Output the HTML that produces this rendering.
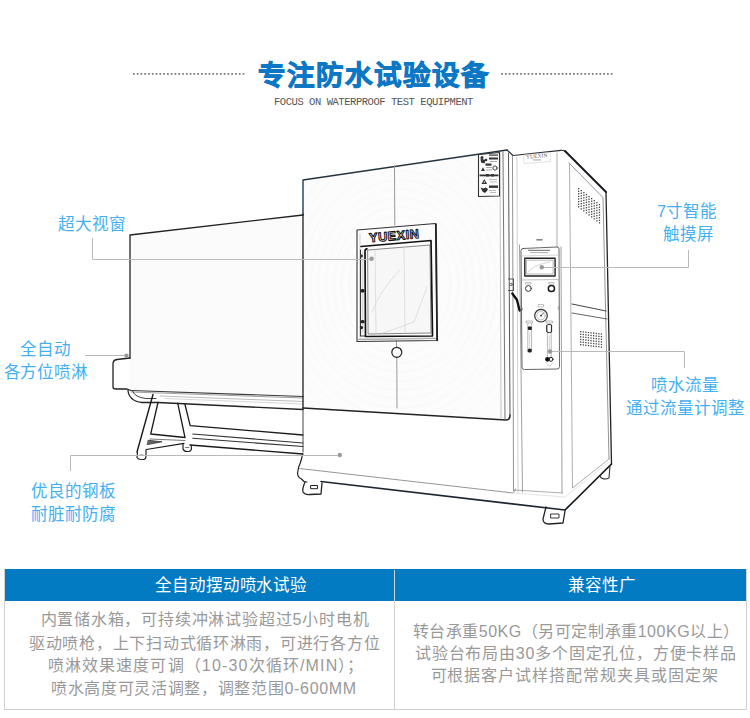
<!DOCTYPE html>
<html lang="zh-CN">
<head>
<meta charset="utf-8">
<title>专注防水试验设备</title>
<style>
html,body{margin:0;padding:0;background:#fff;}
body{width:750px;height:718px;overflow:hidden;position:relative;font-family:"Liberation Sans",sans-serif;}
.abs{position:absolute;white-space:nowrap;}
.title{left:258px;top:56px;font-size:27.5px;line-height:40px;font-weight:700;color:#0c77c4;letter-spacing:2px;-webkit-text-stroke:0.9px #0c77c4;}
.dots{position:absolute;height:2px;background-image:linear-gradient(to right,#8c8c8c 0,#8c8c8c 1.6px,transparent 1.6px,transparent 4px);background-size:4px 2px;opacity:0.85;}
.sub{left:274px;top:95px;font-family:"Liberation Mono",monospace;font-size:10.5px;line-height:14px;color:#555;letter-spacing:-0.45px;}
.lbl{position:absolute;white-space:nowrap;color:#44b0f2;font-size:16.5px;line-height:22px;text-align:center;}
.ln{position:absolute;background:#b4b4b4;}
.dot{position:absolute;width:5px;height:5px;border-radius:50%;background:#9a9a9a;}
svg{position:absolute;left:0;top:0;}
.tbl{position:absolute;left:4px;top:569px;width:741px;height:140px;border:1px solid #d0d0d0;border-top:none;box-sizing:content-box;}
.th{position:absolute;top:569px;height:32px;background:#037bc3;}
.tht{position:absolute;color:#fff;font-size:16.5px;line-height:32px;top:569px;white-space:nowrap;font-weight:500;}
.td{position:absolute;color:#999;font-size:16px;line-height:22.7px;white-space:nowrap;font-weight:300;letter-spacing:0.8px;}
</style>
</head>
<body>
<div class="abs title">专注防水试验设备</div>
<div class="abs sub">FOCUS ON WATERPROOF TEST EQUIPMENT</div>

<!-- MACHINE -->
<svg width="750" height="718" viewBox="0 0 750 718" id="m">
<g fill="none" stroke-linecap="round" stroke-linejoin="round">
<path d="M130 358 L130 235 L303 215 L303 397 L130 390.5 Z" fill="#fbfbfb" stroke="none"/>
<path d="M304 181 L507 151 L510 419 L304 408 Z" fill="#fcfcfc" stroke="none"/>
<!-- faint background arcs on door -->
<clipPath id="dc"><path d="M304 181 L500 152 L503 418 L304 407 Z"/></clipPath>
<g stroke="#f5f5f5" stroke-width="0.6" clip-path="url(#dc)">
<ellipse cx="400" cy="285" rx="51" ry="60"/>
<ellipse cx="400" cy="285" rx="59" ry="69"/>
<ellipse cx="400" cy="285" rx="66" ry="78"/>
<ellipse cx="400" cy="285" rx="74" ry="87"/>
<ellipse cx="400" cy="285" rx="82" ry="96"/>
<ellipse cx="400" cy="285" rx="89" ry="105"/>
<ellipse cx="400" cy="285" rx="97" ry="114"/>
<ellipse cx="400" cy="285" rx="105" ry="123"/>
<ellipse cx="400" cy="285" rx="112" ry="132"/>
<ellipse cx="400" cy="285" rx="120" ry="141"/>
<ellipse cx="400" cy="285" rx="128" ry="150"/>
<ellipse cx="400" cy="285" rx="135" ry="159"/>
<ellipse cx="400" cy="285" rx="143" ry="168"/>
<ellipse cx="400" cy="285" rx="150" ry="177"/>
<ellipse cx="400" cy="285" rx="158" ry="186"/>
<ellipse cx="400" cy="285" rx="166" ry="195"/>
</g>
<!-- spray box -->
<path d="M130 358 L130 235 L303 215" stroke="#222" stroke-width="1.3"/>
<path d="M130 358 L117 359.5 Q113 360 113 364 L113 387 Q113 389 116 389 L127 389 L131 390.5" stroke="#222" stroke-width="1.3"/>
<path d="M131 390.5 L303 396.5" stroke="#3a3a3a" stroke-width="1.1"/>
<!-- rails under spray box -->
<path d="M131 392 L303 398" stroke="#888" stroke-width="0.8"/>
<path d="M160 396 L303 401.5" stroke="#aaa" stroke-width="0.8"/>
<path d="M165 398.5 L303 404" stroke="#ccc" stroke-width="0.8"/>
<path d="M158 402.5 L303 409.5" stroke="#222" stroke-width="1.3"/>
<!-- pipe -->
<path d="M128 390.5 Q129 401 142 402.5 L158 402.5" stroke="#222" stroke-width="1.3"/>
<path d="M132.5 391 Q135 397.5 146 398.5 L156 398.5" stroke="#444" stroke-width="1"/>
<!-- stand legs -->
<path d="M153 394.5 L137 452" stroke="#1a1a1a" stroke-width="1.4"/>
<path d="M158 402.5 L150.7 434 L185 437.5 L177.7 403.2" stroke="#1a1a1a" stroke-width="1.3"/>
<path d="M185 404.5 L190.2 425.7 L303 435" stroke="#1a1a1a" stroke-width="1.3"/>
<!-- lower bars -->
<path d="M192.7 434 L303 443" stroke="#333" stroke-width="1.1"/>
<path d="M192.7 438.3 L303 446.5" stroke="#333" stroke-width="1.1"/>
<path d="M190 445 L303 454" stroke="#1a1a1a" stroke-width="1.3"/>
<!-- cross bars bottom -->
<path d="M148.5 440.3 L162 441.8 L147.5 444.6 Z" fill="#666" stroke="#222" stroke-width="0.7"/>
<path d="M146.3 449.5 L184 443.3" stroke="#1a1a1a" stroke-width="1.2"/>
<path d="M150 439 L185 440.5" stroke="#555" stroke-width="0.8"/>
<!-- stand feet -->
<path d="M137.5 452 L137 457.5 Q138 459.5 141 459.5 L144 459.5 Q146 459 146 456 L146 450" stroke="#222" stroke-width="1.2"/>
<path d="M140 455 L143 455" stroke="#555" stroke-width="0.8"/>
<path d="M183 444 L183 449 Q184 451.5 187 451.5 L189 451.5 Q191.5 451 191.5 448 L191 445" stroke="#222" stroke-width="1.2"/>
<path d="M185.5 447.5 L189 447.5" stroke="#555" stroke-width="0.8"/>

<!-- main chamber -->
<path d="M303 409 L303 214" stroke="#1c1c1c" stroke-width="1.3"/>
<path d="M303 215 L303 180 L507 150" stroke="#24343f" stroke-width="1.35"/>
<path d="M303.3 183 L303.3 212" stroke="#4a78a8" stroke-width="1.2"/>
<!-- door bottom -->
<path d="M303 408 L506 420 Q510 420 510 415" stroke="#222" stroke-width="1.5"/>
<path d="M510 415 L508.5 153" stroke="#555" stroke-width="1"/>
<path d="M505 419 L503 152" stroke="#666" stroke-width="0.9"/>
<path d="M501 418 L500 153" stroke="#aaa" stroke-width="0.7"/>
<!-- door seam -->
<path d="M394.5 166 L394.8 225" stroke="#9a9a9a" stroke-width="1"/>
<path d="M396.5 341 L396.5 347" stroke="#9a9a9a" stroke-width="1"/>
<path d="M396.8 357 L397 408" stroke="#9a9a9a" stroke-width="1"/>
<!-- window -->
<path d="M357 230 L435.5 223.5 L436.8 340.5 L357 341.5 Z" stroke="#333" stroke-width="1.1"/>
<path d="M436 224 L437.3 340.5" stroke="#222" stroke-width="1.6"/>
<path d="M358.5 339.5 L435.5 338.5" stroke="#999" stroke-width="1"/>
<path d="M360 234 L360 339 L434 338" stroke="#bbb" stroke-width="0.7"/>
<path d="M361 246.5 L431 240.5 L432.5 336 L365.5 336.5 L365 251 Q365 249 367 248.8" stroke="#111" stroke-width="1.7"/>
<path d="M368 250 L430 245 L431 333 L368.5 334 Z" stroke="#555" stroke-width="0.7" fill="#f7f7f7"/>
<path d="M360.5 250 L360.5 336 L365 336" stroke="#333" stroke-width="1.1"/>
<path d="M362.8 252 L362.8 333" stroke="#aaa" stroke-width="0.6"/>
<rect x="360.6" y="289" width="4" height="3.6" rx="1.5" fill="#222" stroke="none"/>
<rect x="360.6" y="320" width="4" height="3.2" rx="1.5" fill="#222" stroke="none"/>
<circle cx="361.5" cy="327.6" r="1.6" fill="#222" stroke="none"/>
<circle cx="361.5" cy="256" r="1.4" fill="#333" stroke="none"/>
<!-- window interior faint lines -->
<g stroke="#d8d8d8" stroke-width="0.8">
<path d="M372 312 Q380 290 400 270"/>
<path d="M383 333 L414 322 L427 287"/>
<path d="M375 250 L376 333"/>
<path d="M404 246 L405 333"/>
</g>
<text x="369.5" y="242.3" font-family="Liberation Sans" font-weight="bold" font-size="12.8" fill="#fff" stroke="#111" stroke-width="1.05" letter-spacing="1.1" transform="rotate(-5 369.5 242.3)" textLength="51" lengthAdjust="spacing">YUEXIN</text>
<!-- knob -->
<circle cx="396.8" cy="352.3" r="5" stroke="#222" stroke-width="1.2"/>
<path d="M398 347.8 Q402 349 401.5 353" stroke="#444" stroke-width="0.8"/>
<!-- warning label -->
<path d="M478.5 154.5 L499.5 152.5 L499.5 196 L478.5 196.5 Z" stroke="#333" stroke-width="1.1"/>
<g fill="#333" stroke="none">
<circle cx="482" cy="157.5" r="1.5"/><path d="M480.5 158.5 l5 1.5 l-1 3.5 l-3.5 -1 z"/><circle cx="486" cy="160" r="1.3"/>
<rect x="489" y="154.5" width="9" height="1.2"/><rect x="489" y="157.5" width="9" height="2"/><rect x="490" y="161" width="7" height="0.8" fill="#999"/>
<rect x="485.5" y="163.5" width="6" height="2.2"/><path d="M481 171 l2 -3.8 l2 3.8 z"/>
<circle cx="495" cy="168" r="2.1" fill="none" stroke="#333" stroke-width="0.9"/>
<rect x="486" y="167" width="6" height="0.8" fill="#999"/><rect x="486" y="169.5" width="6" height="0.8" fill="#999"/>
<rect x="479.5" y="174.5" width="19" height="1.8"/><rect x="486" y="174" width="3" height="2.5"/><rect x="491" y="174" width="3" height="2.5"/>
<path d="M481.5 184 l2.8 -5 l2.8 5 z"/><path d="M483.6 182.8 l0.7 -2 l0.7 2 z" fill="#fff"/>
<rect x="489" y="179" width="8" height="0.8" fill="#aaa"/><rect x="490" y="181.5" width="7" height="0.8" fill="#aaa"/>
<rect x="489" y="185.5" width="9" height="2.4"/>
<path d="M480.5 187.5 l3 1 l2 -1 l2.5 1.5 l-1 2 l-2 2 l-2.5 -1.5 z"/>
<rect x="489" y="190" width="7" height="0.8" fill="#aaa"/><rect x="490" y="192" width="6" height="0.8" fill="#aaa"/>
</g>

<!-- control column -->
<path d="M507 150 L513 155.5 L561 150.3 Q564 150 566 152" stroke="#2a2f36" stroke-width="1.2"/>
<path d="M565 151 L606 192" stroke="#15191e" stroke-width="1.9"/>
<path d="M606 192 L611.5 464" stroke="#222" stroke-width="1.3"/>
<path d="M611.5 464 L565 510" stroke="#15191e" stroke-width="1.7"/>
<path d="M512.5 156 L513.5 491" stroke="#777" stroke-width="0.8"/>
<path d="M517 157 L518 492" stroke="#bbb" stroke-width="0.7"/>
<path d="M519.5 245 L522.5 492" stroke="#888" stroke-width="0.8"/>
<path d="M557 153 L557 247" stroke="#999" stroke-width="0.8"/>
<path d="M561 247 L562 493" stroke="#888" stroke-width="0.8"/>
<path d="M514 490 L562.5 493" stroke="#999" stroke-width="0.8"/>
<path d="M569 163 L603 197.5 L609 459" stroke="#888" stroke-width="0.9"/>
<path d="M569.5 163 L572.5 488 L609 459" stroke="#999" stroke-width="0.8"/>
<path d="M572 304 L606 311" stroke="#444" stroke-width="1"/>
<path d="M572 313 L607 319" stroke="#555" stroke-width="0.9"/>
<!-- YUEXIN small on top of control column -->
<path d="M524 155 L550 152.5 L550.5 161.5 L524.5 163.5 Z" stroke="#ccc" stroke-width="0.6"/>
<text x="537" y="157.8" font-family="Liberation Serif" font-size="5.2" fill="#555" text-anchor="middle" letter-spacing="0.3" transform="rotate(-5 537 157)">YUEXIN</text>
<rect x="533" y="159.5" width="8" height="0.9" fill="#999" stroke="none"/>
<!-- vent grids -->
<g fill="#444" stroke="none"><rect x="578.0" y="188.0" width="1.3" height="1.3"/><rect x="580.6" y="190.0" width="1.3" height="1.3"/><rect x="583.2" y="192.0" width="1.3" height="1.3"/><rect x="585.8" y="194.0" width="1.3" height="1.3"/><rect x="588.4" y="196.0" width="1.3" height="1.3"/><rect x="591.0" y="198.0" width="1.3" height="1.3"/><rect x="593.6" y="200.0" width="1.3" height="1.3"/><rect x="596.2" y="202.0" width="1.3" height="1.3"/><rect x="598.8" y="204.0" width="1.3" height="1.3"/><rect x="578.0" y="190.6" width="1.3" height="1.3"/><rect x="580.6" y="192.6" width="1.3" height="1.3"/><rect x="583.2" y="194.6" width="1.3" height="1.3"/><rect x="585.8" y="196.6" width="1.3" height="1.3"/><rect x="588.4" y="198.6" width="1.3" height="1.3"/><rect x="591.0" y="200.6" width="1.3" height="1.3"/><rect x="593.6" y="202.6" width="1.3" height="1.3"/><rect x="596.2" y="204.6" width="1.3" height="1.3"/><rect x="598.8" y="206.6" width="1.3" height="1.3"/><rect x="578.0" y="193.2" width="1.3" height="1.3"/><rect x="580.6" y="195.2" width="1.3" height="1.3"/><rect x="583.2" y="197.2" width="1.3" height="1.3"/><rect x="585.8" y="199.2" width="1.3" height="1.3"/><rect x="588.4" y="201.2" width="1.3" height="1.3"/><rect x="591.0" y="203.2" width="1.3" height="1.3"/><rect x="593.6" y="205.2" width="1.3" height="1.3"/><rect x="596.2" y="207.2" width="1.3" height="1.3"/><rect x="598.8" y="209.2" width="1.3" height="1.3"/><rect x="578.0" y="195.8" width="1.3" height="1.3"/><rect x="580.6" y="197.8" width="1.3" height="1.3"/><rect x="583.2" y="199.8" width="1.3" height="1.3"/><rect x="585.8" y="201.8" width="1.3" height="1.3"/><rect x="588.4" y="203.8" width="1.3" height="1.3"/><rect x="591.0" y="205.8" width="1.3" height="1.3"/><rect x="593.6" y="207.8" width="1.3" height="1.3"/><rect x="596.2" y="209.8" width="1.3" height="1.3"/><rect x="598.8" y="211.8" width="1.3" height="1.3"/><rect x="578.0" y="198.4" width="1.3" height="1.3"/><rect x="580.6" y="200.4" width="1.3" height="1.3"/><rect x="583.2" y="202.4" width="1.3" height="1.3"/><rect x="585.8" y="204.4" width="1.3" height="1.3"/><rect x="588.4" y="206.4" width="1.3" height="1.3"/><rect x="591.0" y="208.4" width="1.3" height="1.3"/><rect x="593.6" y="210.4" width="1.3" height="1.3"/><rect x="596.2" y="212.4" width="1.3" height="1.3"/><rect x="598.8" y="214.4" width="1.3" height="1.3"/><rect x="578.0" y="201.0" width="1.3" height="1.3"/><rect x="580.6" y="203.0" width="1.3" height="1.3"/><rect x="583.2" y="205.0" width="1.3" height="1.3"/><rect x="585.8" y="207.0" width="1.3" height="1.3"/><rect x="588.4" y="209.0" width="1.3" height="1.3"/><rect x="591.0" y="211.0" width="1.3" height="1.3"/><rect x="593.6" y="213.0" width="1.3" height="1.3"/><rect x="596.2" y="215.0" width="1.3" height="1.3"/><rect x="598.8" y="217.0" width="1.3" height="1.3"/><rect x="578.0" y="203.6" width="1.3" height="1.3"/><rect x="580.6" y="205.6" width="1.3" height="1.3"/><rect x="583.2" y="207.6" width="1.3" height="1.3"/><rect x="585.8" y="209.6" width="1.3" height="1.3"/><rect x="588.4" y="211.6" width="1.3" height="1.3"/><rect x="591.0" y="213.6" width="1.3" height="1.3"/><rect x="593.6" y="215.6" width="1.3" height="1.3"/><rect x="596.2" y="217.6" width="1.3" height="1.3"/><rect x="598.8" y="219.6" width="1.3" height="1.3"/><rect x="578.0" y="206.2" width="1.3" height="1.3"/><rect x="580.6" y="208.2" width="1.3" height="1.3"/><rect x="583.2" y="210.2" width="1.3" height="1.3"/><rect x="585.8" y="212.2" width="1.3" height="1.3"/><rect x="588.4" y="214.2" width="1.3" height="1.3"/><rect x="591.0" y="216.2" width="1.3" height="1.3"/><rect x="593.6" y="218.2" width="1.3" height="1.3"/><rect x="596.2" y="220.2" width="1.3" height="1.3"/><rect x="598.8" y="222.2" width="1.3" height="1.3"/><rect x="580.0" y="331.0" width="1.3" height="1.3"/><rect x="582.6" y="331.3" width="1.3" height="1.3"/><rect x="585.2" y="331.6" width="1.3" height="1.3"/><rect x="587.8" y="331.9" width="1.3" height="1.3"/><rect x="590.4" y="332.2" width="1.3" height="1.3"/><rect x="593.0" y="332.5" width="1.3" height="1.3"/><rect x="595.6" y="332.8" width="1.3" height="1.3"/><rect x="598.2" y="333.1" width="1.3" height="1.3"/><rect x="600.8" y="333.4" width="1.3" height="1.3"/><rect x="580.0" y="333.6" width="1.3" height="1.3"/><rect x="582.6" y="333.9" width="1.3" height="1.3"/><rect x="585.2" y="334.2" width="1.3" height="1.3"/><rect x="587.8" y="334.5" width="1.3" height="1.3"/><rect x="590.4" y="334.8" width="1.3" height="1.3"/><rect x="593.0" y="335.1" width="1.3" height="1.3"/><rect x="595.6" y="335.4" width="1.3" height="1.3"/><rect x="598.2" y="335.7" width="1.3" height="1.3"/><rect x="600.8" y="336.0" width="1.3" height="1.3"/><rect x="580.0" y="336.2" width="1.3" height="1.3"/><rect x="582.6" y="336.5" width="1.3" height="1.3"/><rect x="585.2" y="336.8" width="1.3" height="1.3"/><rect x="587.8" y="337.1" width="1.3" height="1.3"/><rect x="590.4" y="337.4" width="1.3" height="1.3"/><rect x="593.0" y="337.7" width="1.3" height="1.3"/><rect x="595.6" y="338.0" width="1.3" height="1.3"/><rect x="598.2" y="338.3" width="1.3" height="1.3"/><rect x="600.8" y="338.6" width="1.3" height="1.3"/><rect x="580.0" y="338.8" width="1.3" height="1.3"/><rect x="582.6" y="339.1" width="1.3" height="1.3"/><rect x="585.2" y="339.4" width="1.3" height="1.3"/><rect x="587.8" y="339.7" width="1.3" height="1.3"/><rect x="590.4" y="340.0" width="1.3" height="1.3"/><rect x="593.0" y="340.3" width="1.3" height="1.3"/><rect x="595.6" y="340.6" width="1.3" height="1.3"/><rect x="598.2" y="340.9" width="1.3" height="1.3"/><rect x="600.8" y="341.2" width="1.3" height="1.3"/><rect x="580.0" y="341.4" width="1.3" height="1.3"/><rect x="582.6" y="341.7" width="1.3" height="1.3"/><rect x="585.2" y="342.0" width="1.3" height="1.3"/><rect x="587.8" y="342.3" width="1.3" height="1.3"/><rect x="590.4" y="342.6" width="1.3" height="1.3"/><rect x="593.0" y="342.9" width="1.3" height="1.3"/><rect x="595.6" y="343.2" width="1.3" height="1.3"/><rect x="598.2" y="343.5" width="1.3" height="1.3"/><rect x="600.8" y="343.8" width="1.3" height="1.3"/><rect x="580.0" y="344.0" width="1.3" height="1.3"/><rect x="582.6" y="344.3" width="1.3" height="1.3"/><rect x="585.2" y="344.6" width="1.3" height="1.3"/><rect x="587.8" y="344.9" width="1.3" height="1.3"/><rect x="590.4" y="345.2" width="1.3" height="1.3"/><rect x="593.0" y="345.5" width="1.3" height="1.3"/><rect x="595.6" y="345.8" width="1.3" height="1.3"/><rect x="598.2" y="346.1" width="1.3" height="1.3"/><rect x="600.8" y="346.4" width="1.3" height="1.3"/></g>
<!-- control panel -->
<path d="M523 248.5 L557 247 Q559 247 559 249 L559.5 366.5 Q559.5 369 557 369 L524.5 369.5 Q522 369.5 522 367 L521 250.5 Q521 248.6 523 248.5 Z" stroke="#555" stroke-width="0.9"/>
<path d="M521.3 307 L523 309 L521.4 311 M559.3 306 L557.8 308 L559.3 310" stroke="#777" stroke-width="0.6"/>
<rect x="528" y="249.8" width="22" height="1" fill="#666" stroke="none"/>
<rect x="530" y="252.3" width="18" height="0.8" fill="#999" stroke="none"/>
<path d="M522 256 L558 255" stroke="#aaa" stroke-width="0.5"/>
<rect x="524.8" y="258.2" width="30.3" height="17.8" stroke="#222" stroke-width="1.4"/>
<rect x="526.8" y="260.2" width="26.3" height="13.8" stroke="#888" stroke-width="0.6"/>
<path d="M528 272 Q535 264 550 262" stroke="#bbb" stroke-width="0.6"/>
<path d="M522 280 L558 279.5" stroke="#999" stroke-width="0.6"/>
<circle cx="528.4" cy="288.5" r="2.9" stroke="#333" stroke-width="1"/>
<circle cx="551.4" cy="288.5" r="3.1" stroke="#1a1a1a" stroke-width="1.5"/>
<rect x="526" y="282.5" width="5" height="1.6" stroke="#888" stroke-width="0.5"/>
<rect x="549" y="282.5" width="5" height="1.6" stroke="#888" stroke-width="0.5"/>
<rect x="536.3" y="239" width="6.3" height="1.6" fill="#888" stroke="none"/>
<!-- gauge -->
<circle cx="541" cy="315.7" r="6.3" stroke="#333" stroke-width="1.2"/>
<circle cx="541" cy="315.7" r="4.2" stroke="#999" stroke-width="0.6"/>
<path d="M541 315.7 L543.5 313" stroke="#333" stroke-width="0.8"/>
<circle cx="541" cy="315.7" r="0.9" fill="#333" stroke="none"/>
<rect x="538.5" y="304.5" width="5" height="2.5" stroke="#888" stroke-width="0.5"/>
<!-- flow meters -->
<path d="M527.8 324 L527.8 352 M531.6 324 L531.6 352" stroke="#888" stroke-width="0.6"/>
<path d="M547.4 326 L547.4 358 M551.2 326 L551.2 358" stroke="#888" stroke-width="0.6"/>
<path d="M529.7 333 L529.7 348" stroke="#bbb" stroke-width="0.8" stroke-dasharray="0.8 1.2"/>
<path d="M549.3 336 L549.3 354" stroke="#bbb" stroke-width="0.8" stroke-dasharray="0.8 1.2"/>
<rect x="526.5" y="321" width="6" height="2" stroke="#777" stroke-width="0.5"/>
<rect x="546.5" y="321" width="6" height="2" stroke="#777" stroke-width="0.5"/>
<rect x="527.8" y="326.5" width="4" height="3.5" rx="1" fill="#222" stroke="none"/>
<circle cx="529.7" cy="350.6" r="2.1" fill="#222" stroke="none"/>
<path d="M547 325 Q549.3 323.5 551.6 325 L551.6 332 Q549.3 333.5 547 332 Z" stroke="#222" stroke-width="1"/>
<circle cx="547.5" cy="359.3" r="2.4" fill="#111" stroke="none"/>
<circle cx="551" cy="359.3" r="2" stroke="#222" stroke-width="1"/>
<path d="M546 362.5 L549.5 366.5 L553 362.5" stroke="#bbb" stroke-width="0.6"/>
<!-- door latch -->
<path d="M508.5 279 L513.5 279 L513.5 290.5 L508.5 290.5" stroke="#444" stroke-width="0.9"/>
<circle cx="511" cy="284.5" r="1.3" stroke="#444" stroke-width="0.7"/>
<path d="M512.3 293.5 L517 300 L519.6 310.5" stroke="#111" stroke-width="2.3"/>

<!-- base -->
<path d="M303 409 L303 452" stroke="#444" stroke-width="1"/>
<path d="M299.5 468.5 L513 493 Q515 492 515.5 489" stroke="#8a8a8a" stroke-width="0.9"/>
<path d="M302.5 454 L301.8 458 Q300.5 463 298.5 467.5 L297.5 473.5 Q298 477.5 301.5 479 L304 481.5 L307 482" stroke="#222" stroke-width="1.2"/>
<path d="M321 481.5 L565 510" stroke="#1c2530" stroke-width="1.6"/>
<path d="M513 493 L565 497 L609 462" stroke="#ddd" stroke-width="0.8"/>
<!-- feet -->
<path d="M305 482 Q302 489 303 492 Q305 495 310 494.5 L321 494 L322 483" stroke="#222" stroke-width="1.3"/>
<rect x="311" y="485.5" width="6.5" height="3.2" stroke="#222" stroke-width="1"/>
<path d="M546 507 L543 519 Q543 524 549 524 L563 523 L565 511" stroke="#222" stroke-width="1.3"/>
<rect x="551" y="514" width="8" height="4" stroke="#222" stroke-width="0.9"/>
<path d="M603 472 L600 476 Q601 479 606 479 L609 478 L610 466" stroke="#333" stroke-width="1.1"/>
</g>

<g fill="#7a7a7a" stroke="none"><rect x="133.00" y="73" width="1.7" height="1.8"/><rect x="136.78" y="73" width="1.7" height="1.8"/><rect x="140.56" y="73" width="1.7" height="1.8"/><rect x="144.34" y="73" width="1.7" height="1.8"/><rect x="148.12" y="73" width="1.7" height="1.8"/><rect x="151.90" y="73" width="1.7" height="1.8"/><rect x="155.68" y="73" width="1.7" height="1.8"/><rect x="159.46" y="73" width="1.7" height="1.8"/><rect x="163.24" y="73" width="1.7" height="1.8"/><rect x="167.02" y="73" width="1.7" height="1.8"/><rect x="170.80" y="73" width="1.7" height="1.8"/><rect x="174.58" y="73" width="1.7" height="1.8"/><rect x="178.36" y="73" width="1.7" height="1.8"/><rect x="182.14" y="73" width="1.7" height="1.8"/><rect x="185.92" y="73" width="1.7" height="1.8"/><rect x="189.70" y="73" width="1.7" height="1.8"/><rect x="193.48" y="73" width="1.7" height="1.8"/><rect x="197.26" y="73" width="1.7" height="1.8"/><rect x="201.04" y="73" width="1.7" height="1.8"/><rect x="204.82" y="73" width="1.7" height="1.8"/><rect x="208.60" y="73" width="1.7" height="1.8"/><rect x="212.38" y="73" width="1.7" height="1.8"/><rect x="216.16" y="73" width="1.7" height="1.8"/><rect x="219.94" y="73" width="1.7" height="1.8"/><rect x="223.72" y="73" width="1.7" height="1.8"/><rect x="227.50" y="73" width="1.7" height="1.8"/><rect x="231.28" y="73" width="1.7" height="1.8"/><rect x="235.06" y="73" width="1.7" height="1.8"/><rect x="238.84" y="73" width="1.7" height="1.8"/><rect x="242.62" y="73" width="1.7" height="1.8"/><rect x="501.20" y="73" width="1.7" height="1.8"/><rect x="504.98" y="73" width="1.7" height="1.8"/><rect x="508.76" y="73" width="1.7" height="1.8"/><rect x="512.54" y="73" width="1.7" height="1.8"/><rect x="516.32" y="73" width="1.7" height="1.8"/><rect x="520.10" y="73" width="1.7" height="1.8"/><rect x="523.88" y="73" width="1.7" height="1.8"/><rect x="527.66" y="73" width="1.7" height="1.8"/><rect x="531.44" y="73" width="1.7" height="1.8"/><rect x="535.22" y="73" width="1.7" height="1.8"/><rect x="539.00" y="73" width="1.7" height="1.8"/><rect x="542.78" y="73" width="1.7" height="1.8"/><rect x="546.56" y="73" width="1.7" height="1.8"/><rect x="550.34" y="73" width="1.7" height="1.8"/><rect x="554.12" y="73" width="1.7" height="1.8"/><rect x="557.90" y="73" width="1.7" height="1.8"/><rect x="561.68" y="73" width="1.7" height="1.8"/><rect x="565.46" y="73" width="1.7" height="1.8"/><rect x="569.24" y="73" width="1.7" height="1.8"/><rect x="573.02" y="73" width="1.7" height="1.8"/><rect x="576.80" y="73" width="1.7" height="1.8"/><rect x="580.58" y="73" width="1.7" height="1.8"/><rect x="584.36" y="73" width="1.7" height="1.8"/><rect x="588.14" y="73" width="1.7" height="1.8"/><rect x="591.92" y="73" width="1.7" height="1.8"/><rect x="595.70" y="73" width="1.7" height="1.8"/><rect x="599.48" y="73" width="1.7" height="1.8"/><rect x="603.26" y="73" width="1.7" height="1.8"/><rect x="607.04" y="73" width="1.7" height="1.8"/><rect x="610.82" y="73" width="1.7" height="1.8"/></g>
<!-- leader lines -->
<g stroke="#bababa" stroke-width="1" fill="none">
<path d="M92.5 238 L92.5 259.5 L371 259.5"/>
<path d="M85 355.5 L126 355.5"/>
<path d="M70.5 471 L70.5 455.5 L340 455.5"/>
<path d="M688.5 250 L688.5 267.5 L542 267.5"/>
<path d="M550 351.5 L684.5 351.5 L684.5 368"/>
</g>
<g fill="#999">
<circle cx="371.6" cy="258.8" r="2.2"/>
<circle cx="126.5" cy="355.8" r="2.2"/>
<circle cx="339.8" cy="455" r="2.2"/>
<circle cx="541.8" cy="267.3" r="2.2"/>
<circle cx="550" cy="351.5" r="2.2"/>
</g>

</svg>

<!-- labels -->
<div class="lbl" style="left:58px;top:212.5px;">超大视窗</div>
<div class="lbl" style="left:20px;top:338px;">全自动</div>
<div class="lbl" style="left:3.8px;top:360.5px;letter-spacing:-0.3px;">各方位喷淋</div>
<div class="lbl" style="left:31px;top:479.5px;line-height:23px;">优良的钢板<br>耐脏耐防腐</div>
<div class="lbl" style="left:657px;top:200px;">7寸智能</div>
<div class="lbl" style="left:662.5px;top:223px;">触摸屏</div>
<div class="lbl" style="left:651px;top:374px;">喷水流量</div>
<div class="lbl" style="left:626px;top:397px;">通过流量计调整</div>

<!-- table -->
<div class="th" style="left:4px;width:742px;"></div>
<div class="tbl"></div>
<div class="ln" style="left:394px;top:570px;width:1px;height:139px;background:#d0d0d0;"></div>
<div class="tht" style="left:155.3px;letter-spacing:-0.15px;">全自动摆动喷水试验</div>
<div class="tht" style="left:568px;">兼容性广</div>

<div class="td" style="left:40.5px;top:609px;">内置储水箱，可持续冲淋试验超过5小时电机</div>
<div class="td" style="left:29px;top:632.5px;letter-spacing:0.73px;">驱动喷枪，上下扫动式循环淋雨，可进行各方位</div>
<div class="td" style="left:47.5px;top:655px;letter-spacing:1.15px;">喷淋效果速度可调（10-30次循环/MIN）；</div>
<div class="td" style="left:51px;top:677.5px;letter-spacing:0.68px;">喷水高度可灵活调整，调整范围0-600MM</div>

<div class="td" style="left:412.5px;top:621px;letter-spacing:0.55px;">转台承重50KG（另可定制承重100KG以上）</div>
<div class="td" style="left:415px;top:643px;">试验台布局由30多个固定孔位，方便卡样品</div>
<div class="td" style="left:430.5px;top:665px;letter-spacing:0.98px;">可根据客户试样搭配常规夹具或固定架</div>
</body>
</html>
